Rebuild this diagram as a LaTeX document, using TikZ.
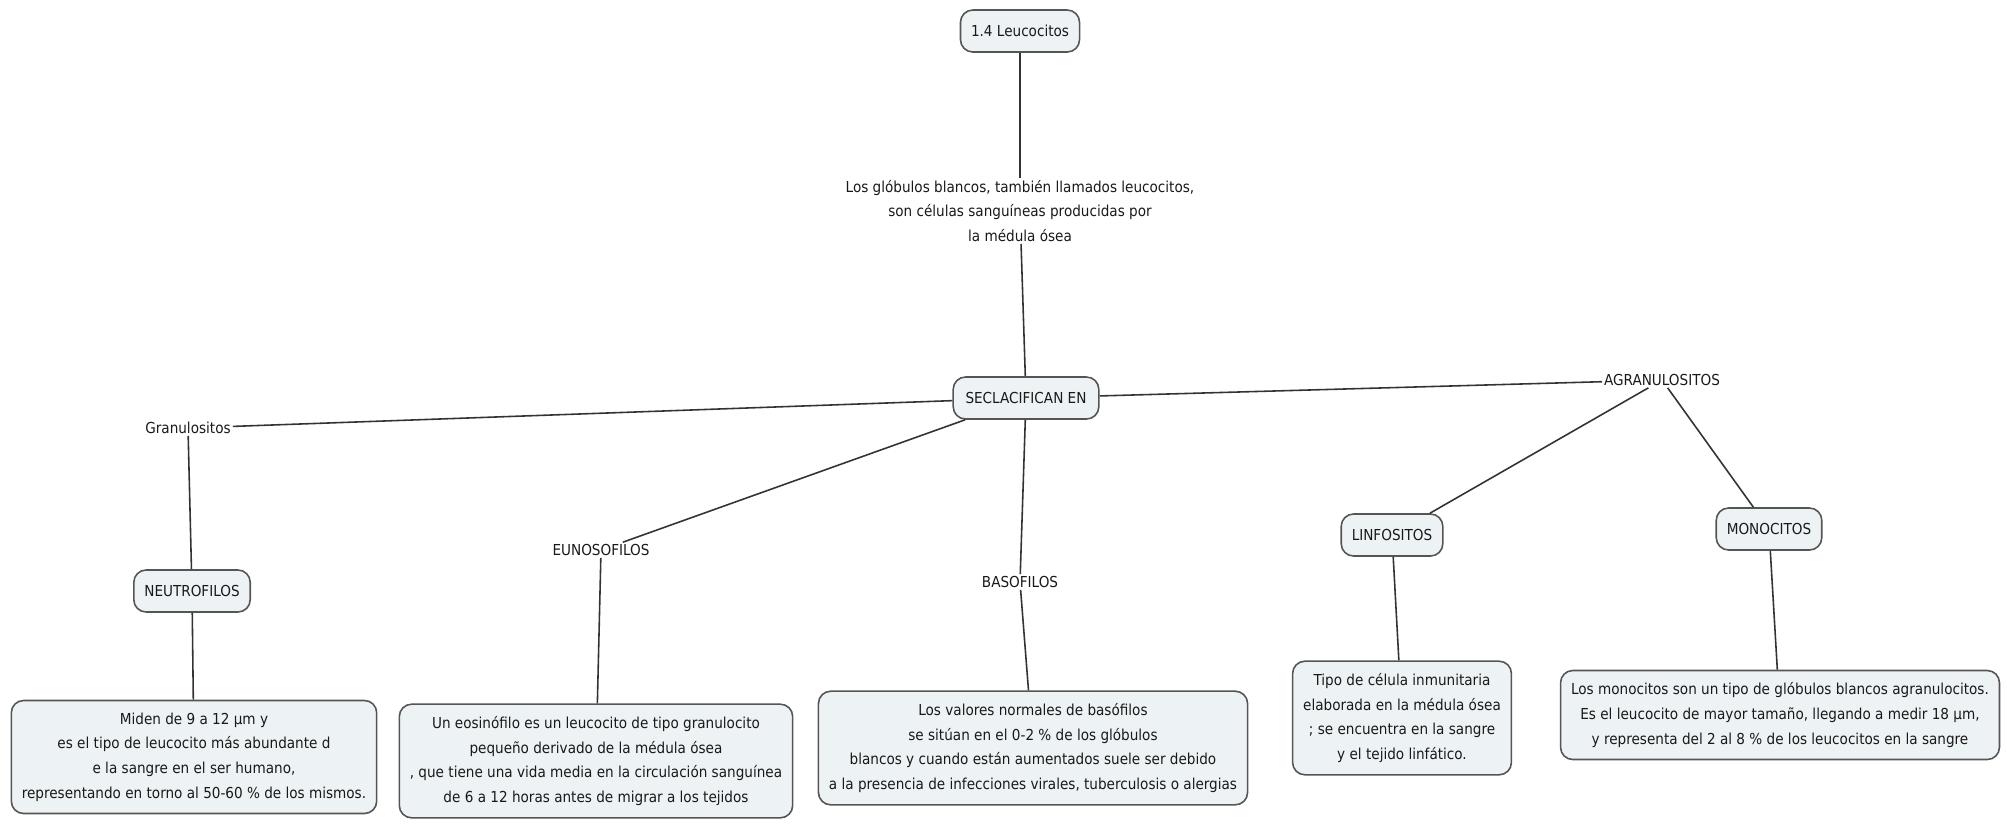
\documentclass[tikz,border=0pt]{standalone}
\usepackage{fontspec}
\setmainfont{DejaVu Sans Condensed}
\usepackage{tikz}
\usetikzlibrary{positioning}
\definecolor{boxfill}{HTML}{EDF2F4}
\definecolor{boxline}{HTML}{555555}
\definecolor{linkline}{HTML}{333333}
\tikzset{
	concept/.style={draw=boxline, fill=boxfill, rounded corners=7pt, line width=0.9pt, align=center, inner xsep=6pt, inner ysep=7pt, text=black!90},
	headbox/.style={concept, minimum height=0.84cm, inner xsep=6pt},
	plain/.style={align=center, inner sep=1pt, text=black!90},
	link/.style={draw=linkline, line width=0.9pt}
}

\begin{document}
\begin{tikzpicture}[x=0.02cm, y=-0.02cm, font=\fontsize{8.6}{14}\selectfont]
		%%%%% START %%%%%
		\useasboundingbox (0, 0) rectangle (2007, 833);
		
		\node[headbox] (leuco) at (1020, 31) {1.4 Leucocitos};
		\node[plain] (def) at (1020, 211) {Los glóbulos blancos, también llamados leucocitos,\\son células sanguíneas producidas por\\la médula ósea};
		\node[headbox, inner xsep=7pt] (clas) at (1026, 398) {SECLACIFICAN EN};
		
		\node[plain] (gran) at (188, 428) {Granulositos};
		\node[plain] (agran) at (1662, 380) {AGRANULOSITOS};
		
		\node[headbox] (neutro) at (192, 591) {NEUTROFILOS};
		\node[plain] (eos) at (601, 550) {EUNOSOFILOS};
		\node[plain] (baso) at (1020, 582) {BASOFILOS};
		\node[headbox] (linfo) at (1392, 535) {LINFOSITOS};
		\node[headbox] (mono) at (1769, 529) {MONOCITOS};
		
		\node[concept] (neutrotxt) at (194, 757) {Miden de 9 a 12 µm y\\es el tipo de leucocito más abundante d\\e la sangre en el ser humano,\\representando en torno al 50-60 \% de los mismos.};
		\node[concept] (eostxt) at (596, 761) {Un eosinófilo es un leucocito de tipo granulocito\\pequeño derivado de la médula ósea\\, que tiene una vida media en la circulación sanguínea\\de 6 a 12 horas antes de migrar a los tejidos};
		\node[concept] (basotxt) at (1033, 748) {Los valores normales de basófilos\\se sitúan en el 0-2 \% de los glóbulos\\blancos y cuando están aumentados suele ser debido\\a la presencia de infecciones virales, tuberculosis o alergias};
		\node[concept] (linfotxt) at (1402, 718) {Tipo de célula inmunitaria\\elaborada en la médula ósea\\; se encuentra en la sangre\\y el tejido linfático.};
		\node[concept] (monotxt) at (1780, 715) {Los monocitos son un tipo de glóbulos blancos agranulocitos.\\Es el leucocito de mayor tamaño, llegando a medir 18 µm,\\y representa del 2 al 8 \% de los leucocitos en la sangre};
		
		% links
		\draw[link] (leuco) -- (def);
		\draw[link] (def) -- (clas);
		\draw[link] (clas) -- (gran);
		\draw[link] (clas) -- (agran);
		\draw[link] (clas) -- (eos);
		\draw[link] (clas) -- (baso);
		\draw[link] (gran) -- (neutro);
		\draw[link] (agran) -- (linfo);
		\draw[link] (agran) -- (mono);
		
		\draw[link] (neutro) -- (neutrotxt);
		\draw[link] (eos) -- (eostxt);
		\draw[link] (baso) -- (basotxt);
		\draw[link] (linfo) -- (linfotxt);
		\draw[link] (mono) -- (monotxt);
		%%%%% END %%%%%
\end{tikzpicture}
\end{document}
